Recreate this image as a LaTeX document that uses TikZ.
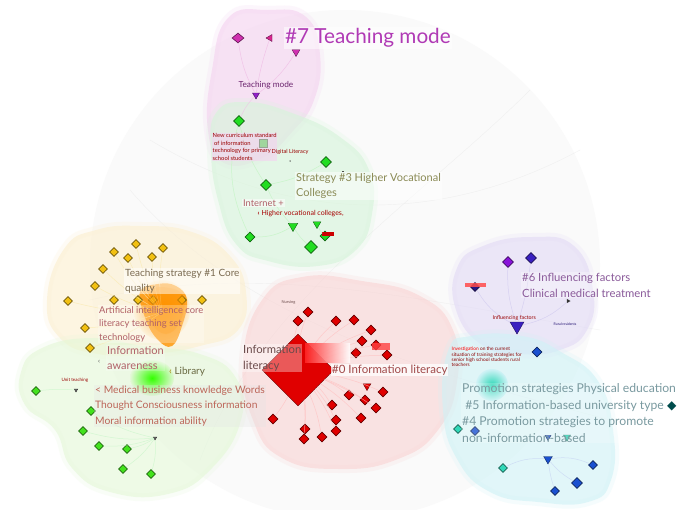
\documentclass[tikz,border=0pt]{standalone}
\usepackage{fontspec}
\setmainfont{Lato}
\newfontfamily\symfont{DejaVu Sans}
\usetikzlibrary{shapes.geometric}
\definecolor{cgreen}{HTML}{22DD22}
\definecolor{cyel}{HTML}{F2C012}
\definecolor{cred}{HTML}{E00000}
\definecolor{cmag}{HTML}{D030B0}
\definecolor{cpur}{HTML}{3A20C0}
\definecolor{cblue}{HTML}{1A50D0}
\definecolor{cteal}{HTML}{30D8B8}
\definecolor{cdk}{HTML}{666666}
\definecolor{bpink}{HTML}{F4D2F0}
\definecolor{bgreen}{HTML}{D6F5DA}
\definecolor{byel}{HTML}{FCEFD0}
\definecolor{blgreen}{HTML}{E4F8D8}
\definecolor{bred}{HTML}{F9D4D4}
\definecolor{blav}{HTML}{E2DAF6}
\definecolor{bcyan}{HTML}{D0F2F6}
\definecolor{tpurple}{HTML}{B03AB5}
\definecolor{tolive}{HTML}{8A8A55}
\definecolor{tbrown}{HTML}{7A6A50}
\definecolor{trose}{HTML}{B06068}
\definecolor{tred}{HTML}{A04848}
\definecolor{tdark}{HTML}{6A4A4A}
\definecolor{tlav}{HTML}{8A5A9A}
\definecolor{tteal}{HTML}{7A9AA0}
\tikzset{
  dmd/.style={diamond, aspect=1, draw=#1!45!black, fill=#1, line width=0.6pt, inner sep=0pt, minimum width=9pt, minimum height=9pt},
  tridown/.style={regular polygon, regular polygon sides=3, shape border rotate=180, draw=#1!45!black, fill=#1, line width=0.4pt, inner sep=0pt, minimum size=8pt},
  blob/.style={fill=#1, fill opacity=0.62, draw=#1, line width=8pt, draw opacity=0.2, line join=round},
  lab/.style={inner sep=1pt, align=left, anchor=west, fill=white, fill opacity=0.5, text opacity=1},
  tiny/.style={inner sep=0.5pt, align=left, anchor=west, font=\fontsize{4.5}{5.2}\selectfont},
  link/.style={draw=#1, line width=0.5pt, opacity=0.7},
  faint/.style={draw=gray!20, line width=0.4pt, opacity=0.5}
}
\begin{document}
\begin{tikzpicture}[x=1pt,y=-1pt]
\useasboundingbox (0,0) rectangle (684,509);
\fill[white] (0,0) rectangle (684,509);
% faint background disc
\fill[black!2] (345,265) circle (255);
\draw[faint] (150,140) .. controls (300,230) and (450,220) .. (580,150);
\draw[faint] (90,300) .. controls (260,260) and (420,300) .. (600,330);
\draw[faint] (200,460) .. controls (260,300) and (420,200) .. (530,90);
\draw[faint] (130,190) .. controls (250,330) and (460,380) .. (610,420);

% cluster regions
\fill[blob=bpink] plot[smooth cycle, tension=0.8] coordinates {(228,18) (268,10) (306,17) (320,55) (314,100) (292,132) (262,158) (224,163) (208,130) (212,70)};
\fill[blob=bgreen] plot[smooth cycle, tension=0.8] coordinates {(216,113) (245,102) (292,113) (340,137) (369,170) (372,214) (356,250) (318,266) (268,261) (236,244) (218,200) (211,150)};
\fill[blob=byel] plot[smooth cycle, tension=0.8] coordinates {(64,249) (96,230) (142,226) (192,232) (230,256) (246,292) (238,330) (200,346) (150,354) (98,354) (60,338) (47,300)};
\fill[blob=blgreen] plot[smooth cycle, tension=0.8] coordinates {(21,372) (42,348) (92,338) (142,346) (200,354) (236,378) (241,420) (212,468) (168,494) (110,492) (72,468) (55,430) (25,405)};
\fill[blob=bred] plot[smooth cycle, tension=0.8] coordinates {(262,300) (302,277) (362,281) (420,296) (453,330) (457,382) (438,430) (398,459) (340,469) (282,458) (253,420) (243,360)};
\fill[blob=blav] plot[smooth cycle, tension=0.8] coordinates {(457,268) (483,246) (532,237) (574,246) (593,290) (587,330) (560,350) (520,354) (482,345) (456,310)};
\fill[blob=bcyan] plot[smooth cycle, tension=0.8] coordinates {(448,351) (471,336) (522,336) (561,352) (598,381) (613,430) (611,480) (588,502) (538,502) (490,492) (457,459) (443,410)};

% hub blurs
\shade[inner color=orange!90!yellow, outer color=byel] (162,310) ellipse (28 and 30);
\fill[orange!85!yellow, opacity=0.8] plot[smooth cycle, tension=0.7] coordinates {(140,292) (158,284) (176,286) (187,300) (182,326) (172,346) (158,340) (146,320)};
\shade[inner color=green!80!yellow, outer color=blgreen] (152,378) ellipse (22 and 18);
\shade[inner color=cteal, outer color=bcyan] (492,385) circle (16);

% ---------- cluster #7 (pink) ----------
\node[dmd=cmag, minimum width=12pt, minimum height=10pt] (p1) at (238,38) {};
\node[regular polygon, regular polygon sides=3, shape border rotate=90, fill=cmag!80!red, draw=cmag!45!black, line width=0.4pt, inner sep=0pt, minimum size=8pt] (p2) at (270,38) {};
\node[tridown=cmag, minimum size=9pt] (p3) at (296,52) {};
\node[tridown=cmag!70!blue, minimum size=8pt] (p4) at (256,95) {};
\draw[link=cmag!35] (p4) to[bend left=10] (p1);
\draw[link=cmag!35] (p4) to[bend left=5] (p2);
\draw[link=cmag!35] (p4) to[bend right=10] (p3);
\node[tiny, font=\fontsize{8.3}{9}\selectfont, text=tpurple!60!black] (tm) at (238,85) {Teaching mode};
\node[lab, font=\fontsize{20.7}{22}\selectfont, text=tpurple] (l7) at (284,38) {\#7 Teaching mode};

% ---------- cluster #3 (green) ----------
\node[dmd=cgreen, minimum width=11pt, minimum height=11pt] (g1) at (239,121) {};
\node[rectangle, fill=cgreen, draw=cgreen!45!black, line width=0.4pt, inner sep=0pt, minimum size=8pt] (g2) at (263,143) {};
\node[dmd=cgreen, minimum width=11pt, minimum height=11pt] (g3) at (326,162) {};
\node[dmd=cgreen, minimum width=11pt, minimum height=11pt] (g4) at (266,185) {};
\node[dmd=cgreen, minimum width=10pt, minimum height=10pt] (g5) at (250,237) {};
\node[dmd=cgreen, minimum width=13pt, minimum height=13pt] (g6) at (311,247) {};
\node[dmd=cgreen, minimum width=10pt, minimum height=10pt] (g7) at (325,236) {};
\node[tridown=cgreen, minimum size=11pt] (g8) at (293,226) {};
\node[tridown=cgreen, minimum size=9pt] (g9) at (317,224) {};
\node[fill=red!80!black, inner sep=0pt, minimum width=12pt, minimum height=4pt] (g10) at (328,234) {};
\node[fill=black!70, circle, inner sep=0pt, minimum size=1.5pt] (g11) at (290,161) {};
\node[fill=black!70, inner sep=0pt, minimum width=2pt, minimum height=1pt] (g12) at (343,171) {};
\draw[link=cgreen!30] (g4) to[bend left=10] (g1);
\draw[link=cgreen!30] (g4) to[bend right=10] (g3);
\draw[link=cgreen!30] (g8) to[bend left=10] (g4);
\draw[link=cgreen!30] (g8) to[bend left=15] (g5);
\draw[link=cgreen!30] (g8) to[bend right=10] (g6);
\draw[link=cgreen!30] (g9) to[bend right=10] (g7);
\draw[link=cgreen!30] (g1) to[bend right=20] (g5);
\draw[link=cmag!30] (p4) to[bend right=10] (g1);
\node[tiny, font=\fontsize{5.8}{7.6}\selectfont, text=red!60!black, fill=bpink, fill opacity=0.6, text opacity=1] (ncs) at (212,147) {New curriculum standard\\\ of information\\technology for primary\\school students};
\node[tiny, font=\fontsize{5.6}{6}\selectfont, text=red!60!black] (dl) at (271,152) {Digital Literacy};
\node[lab, font=\fontsize{11}{15}\selectfont, text=tolive] (l3) at (295,186) {Strategy \#3 Higher Vocational\\Colleges};
\node[lab, font=\fontsize{9.3}{11}\selectfont, text=trose] (inet) at (242,203) {Internet +};
\node[tiny, font=\fontsize{7}{8}\selectfont, text=red!65!black] (hvc) at (257,214) {\textbf{‹} Higher vocational colleges,};

% ---------- cluster #1 (yellow) ----------
\foreach \n/\x/\y in {y1/136/244, y2/163/248, y3/114/252, y4/128/258, y5/152/257, y6/103/269, y7/95/286, y8/68/301, y9/114/300, y10/138/300, y11/153/300, y12/182/300, y13/202/300, y14/85/328, y15/90/348}
  \node[dmd=cyel] (\n) at (\x,\y) {};
\coordinate (yh) at (162,312);
\foreach \n in {y1,y2,y3,y4,y5,y6,y7,y8,y14,y15}
  \draw[link=cyel!35] (yh) to[bend left=8] (\n);
\fill[orange!85!yellow, opacity=0.55] plot[smooth cycle, tension=0.7] coordinates {(150,292) (170,288) (184,298) (180,322) (166,334) (152,322)};
\node[lab, font=\fontsize{10}{15}\selectfont, text=tbrown] (l1) at (124,281) {Teaching strategy \#1 Core\\quality};
\node[lab, font=\fontsize{9.4}{13.5}\selectfont, text=trose, fill opacity=0.25] (ai) at (98,324) {Artificial intelligence core\\literacy teaching set\\technology};
\node[lab, font=\fontsize{11}{15}\selectfont, text=trose, fill opacity=0.2] (ia) at (106,358) {Information\\awareness};
\node[font=\fontsize{7}{7}\selectfont, text=black!70, inner sep=0pt] (ym) at (99,362) {‹};

% ---------- left green cluster ----------
\foreach \n/\x/\y in {l1/36/391, l2/91/411, l3/83/431, l4/99/446, l5/127/449, l6/123/469, l7/151/474}
  \node[dmd=cgreen!85!yellow] (\n) at (\x,\y) {};
\node[tridown=cdk, minimum size=4pt] (lt1) at (76,390) {};
\node[tridown=cdk, minimum size=4pt] (lt2) at (155,438) {};
\foreach \n in {l2,l3,l4,l5,l6,l7}
  \draw[link=cgreen!25] (lt2) to[bend left=10] (\n);
\draw[link=cgreen!25] (lt1) to[bend right=5] (l1);
\node[tiny, text=red!60!black] (ut) at (61,380) {Unit teaching};
\node[lab, font=\fontsize{10}{11}\selectfont, text=tolive!75!black, fill opacity=0] (lib) at (168,372) {{\color{cyel!70!black}‹} Library};
\node[lab, font=\fontsize{10.3}{15.5}\selectfont, text=trose!85!orange, fill=gray!20, fill opacity=0.3] (med) at (94,406) {< Medical business knowledge Words\\Thought Consciousness information\\Moral information ability};

% ---------- cluster #0 (red) ----------
\node[dmd=cred, minimum width=72pt, minimum height=72pt, line width=0.3pt] (R0) at (298,370) {};
\foreach \n/\x/\y in {r1/308/312, r2/298/321, r3/336/321, r4/354/320, r5/371/330, r6/362/341, r7/356/353, r8/376/345, r9/387/355, r10/349/395, r11/365/400, r12/383/392, r13/376/408, r14/332/405, r15/336/420, r16/336/431, r17/322/437, r18/304/439, r19/305/429, r20/273/419, r21/361/418}
  \node[dmd=cred, minimum width=10pt, minimum height=10pt] (\n) at (\x,\y) {};
\node[tridown=cred, minimum size=9pt] (rt) at (367,386) {};
\fill[red!75, opacity=0.8] (372,343) rectangle (390,350);
\foreach \n in {r1,r2,r3,r4,r5,r6,r8,r9,r10,r11,r12,r13,r14,r15,r16,r17,r18,r19,r20,r21}
  \draw[link=red!25] (R0) to[bend left=6] (\n);
\shade[left color=red!85, right color=white, opacity=0.9] (305,343) rectangle (350,362);
\node[tiny, font=\fontsize{4}{5}\selectfont, text=tdark] (nur) at (281,302) {Nursing};
\node[lab, font=\fontsize{11.3}{16}\selectfont, text=tdark, fill opacity=0.35] (il) at (242,358) {Information\\literacy};
\node[lab, font=\fontsize{11.5}{13}\selectfont, text=tred, fill opacity=0.75] (l0) at (331,370) {\#0 Information literacy};

% ---------- cluster #6 (lavender) ----------
\node[dmd=cpur!60!magenta, minimum width=11pt, minimum height=11pt] (v1) at (508,262) {};
\node[dmd=cpur, minimum width=11pt, minimum height=11pt] (v2) at (531,258) {};
\node[dmd=cpur!70!black, minimum width=9pt, minimum height=9pt] (v3) at (475,287) {};
\fill[red!70, opacity=0.85] (465,283) rectangle (486,287);
\node[tridown=cpur, minimum size=16pt] (v4) at (517,326) {};
\node[regular polygon, regular polygon sides=3, shape border rotate=-90, fill=black!80, inner sep=0pt, minimum size=5pt] (v5) at (568,301) {};
\draw[link=cpur!25] (v4) to[bend left=10] (v1);
\draw[link=cpur!25] (v4) to[bend right=5] (v2);
\draw[link=cpur!25] (v4) to[bend left=15] (v3);
\draw[link=cpur!25] (v4) to[bend right=15] (v5);
\node[lab, font=\fontsize{11.3}{16}\selectfont, text=tlav, fill opacity=0.3] (l6) at (521,285) {\#6 Influencing factors\\Clinical medical treatment};
\node[tiny, font=\fontsize{5.3}{6}\selectfont, text=red!60!black] (if) at (492,318) {Influencing factors};
\node[tiny, font=\fontsize{3.5}{4}\selectfont, text=cpur!60!black] (rr) at (553,324) {Rural residents};

% ---------- cluster #5/#4 (cyan) ----------
\node[dmd=cblue, minimum width=10pt, minimum height=10pt] (c1) at (537,352) {};
\node[dmd=cteal] (c2) at (458,429) {};
\node[dmd=cblue] (c3) at (475,431) {};
\node[tridown=cblue, minimum size=7pt] (c4) at (548,437) {};
\node[tridown=cteal, minimum size=8pt] (c5) at (567,437) {};
\node[dmd=cteal] (c6) at (503,468) {};
\node[tridown=cblue, minimum size=10pt] (c7) at (548,459) {};
\node[dmd=cblue] (c8) at (593,465) {};
\node[dmd=cblue, minimum width=11pt, minimum height=11pt] (c9) at (577,483) {};
\node[dmd=cblue] (c10) at (555,491) {};
\draw[link=cblue!25] (c7) to[bend left=15] (c8);
\draw[link=cblue!25] (c7) to[bend right=10] (c9);
\draw[link=cblue!25] (c7) to[bend right=5] (c10);
\draw[link=cblue!25] (c7) to[bend right=15] (c6);
\node[tiny, font=\fontsize{4.8}{5.3}\selectfont, text=red!55!black] (inv) at (451,357) {{\color{red}Investigation} on the current\\situation of training strategies for\\senior high school students rural\\teachers};
\node[lab, font=\fontsize{12.2}{16.6}\selectfont, text=tteal, fill opacity=0.2] (l5) at (461,413) {Promotion strategies Physical education\\\ \#5 Information-based university type {\symfont\color{teal!60!black}◆}\\\#4 Promotion strategies to promote\\non-information-based};
\end{tikzpicture}
\end{document}
